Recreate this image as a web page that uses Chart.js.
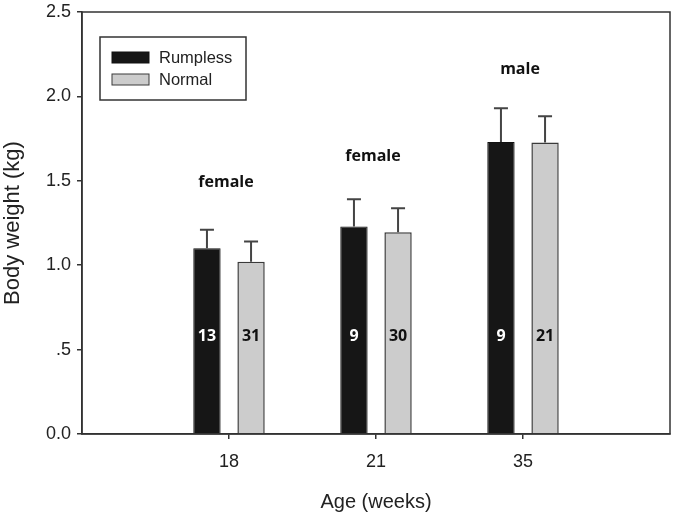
<!DOCTYPE html>
<html>
<head>
<meta charset="utf-8">
<script src="https://cdn.jsdelivr.net/npm/chart.js@4.4.1/dist/chart.umd.min.js"></script>
<style>
  html, body { margin: 0; padding: 0; background: #ffffff; }
  #wrap { width: 675px; height: 514px; }
</style>
</head>
<body>
<div id="wrap"><canvas id="c" width="675" height="514"></canvas></div>
<script>
// ---- data ----
const categories = ['18', '21', '35'];
const rumplessMean = [1.10, 1.23, 1.73];
const rumplessSD = [0.11, 0.16, 0.20];
const normalMean = [1.02, 1.195, 1.727];
const normalSD = [0.12, 0.143, 0.156];
const rumplessN = ['13', '9', '9'];
const normalN = ['31', '30', '21'];
const groupLabels = ['female', 'female', 'male'];
const groupLabelY = [1.49, 1.645, 2.16];
const yTickLabels = ['0.0', '.5', '1.0', '1.5', '2.0', '2.5'];

// pad categories with empty slots so the axis spans one category beyond each side
const axisLabels = [''].concat(categories, ['']);
const pad = arr => [null].concat(arr, [null]);

const AXIS = '#333333';
const FONT = "'Liberation Sans', Arial, sans-serif";
const BOLD = "'Open Sans', 'DejaVu Sans', sans-serif";

const overlay = {
  id: 'overlay',
  afterDraw(chart) {
    const ctx = chart.ctx;
    const ys = chart.scales.y;
    const xs = chart.scales.x;
    const ca = chart.chartArea;
    const sds = [rumplessSD, normalSD];
    const ns = [rumplessN, normalN];
    ctx.save();
    // error bars (upper only)
    chart.data.datasets.forEach((ds, di) => {
      const meta = chart.getDatasetMeta(di);
      meta.data.forEach((el, j) => {
        const v = ds.data[j];
        if (v === null || v === undefined) return;
        const sd = sds[di][j - 1];
        const yTop = ys.getPixelForValue(v + sd);
        ctx.strokeStyle = '#444444';
        ctx.lineWidth = 2;
        ctx.beginPath();
        ctx.moveTo(el.x, el.y);
        ctx.lineTo(el.x, yTop);
        ctx.moveTo(el.x - 7, yTop);
        ctx.lineTo(el.x + 7, yTop);
        ctx.stroke();
        // sample size labels
        ctx.font = 'bold 16px ' + BOLD;
        ctx.textAlign = 'center';
        ctx.textBaseline = 'middle';
        ctx.fillStyle = di === 0 ? '#ffffff' : '#111111';
        ctx.fillText(ns[di][j - 1], el.x, ys.getPixelForValue(0.58));
      });
    });
    // group labels
    ctx.font = 'bold 16px ' + BOLD;
    ctx.fillStyle = '#111111';
    ctx.textAlign = 'center';
    ctx.textBaseline = 'middle';
    groupLabels.forEach((t, i) => {
      ctx.fillText(t, xs.getPixelForValue(i + 1) - 3, ys.getPixelForValue(groupLabelY[i]));
    });
    // frame
    ctx.strokeStyle = AXIS;
    ctx.lineWidth = 1.5;
    ctx.strokeRect(ca.left, ca.top, ca.right - ca.left, ca.bottom - ca.top);
    // legend
    const lx = ca.left + 18, ly = ca.top + 25;
    ctx.lineWidth = 1.5;
    ctx.strokeStyle = AXIS;
    ctx.strokeRect(lx, ly, 146, 63);
    chart.data.datasets.forEach((ds, di) => {
      const sy = ly + 15 + di * 22;
      ctx.fillStyle = ds.backgroundColor;
      ctx.fillRect(lx + 12, sy, 37, 11);
      ctx.lineWidth = 1;
      ctx.strokeStyle = ds.borderColor;
      ctx.strokeRect(lx + 12, sy, 37, 11);
      ctx.fillStyle = '#222222';
      ctx.font = '16.5px ' + FONT;
      ctx.textAlign = 'left';
      ctx.textBaseline = 'middle';
      ctx.fillText(ds.label, lx + 59, sy + 6);
    });
    ctx.restore();
  }
};

new Chart(document.getElementById('c'), {
  type: 'bar',
  data: {
    labels: axisLabels,
    datasets: [
      { label: 'Rumpless', data: pad(rumplessMean), backgroundColor: '#161616', borderColor: '#111111', borderWidth: 1 },
      { label: 'Normal', data: pad(normalMean), backgroundColor: '#cccccc', borderColor: '#3a3a3a', borderWidth: 1.5 }
    ]
  },
  options: {
    responsive: false,
    animation: false,
    categoryPercentage: 0.6,
    barPercentage: 0.62,
    layout: { padding: { top: 12, right: 5, left: 0, bottom: 0 } },
    plugins: { legend: { display: false }, tooltip: { enabled: false } },
    scales: {
      x: {
        offset: false,
        grid: {
          offset: false,
          drawOnChartArea: false,
          drawTicks: true,
          tickLength: 5,
          color: ctx => (ctx.tick && ctx.tick.label === '') ? 'rgba(0,0,0,0)' : AXIS,
          lineWidth: 1.5
        },
        border: { display: true, color: AXIS, width: 1.5 },
        ticks: { color: '#222', font: { family: FONT, size: 18 }, padding: 12, maxRotation: 0, autoSkip: false },
        title: { display: true, text: 'Age (weeks)', color: '#222', font: { family: FONT, size: 20 }, padding: { top: 0, bottom: 0 } },
        afterFit: s => { s.height = 80; s.paddingLeft = 0; s.paddingRight = 0; }
      },
      y: {
        min: 0, max: 2.5,
        grid: { drawOnChartArea: false, drawTicks: true, tickLength: 5, color: AXIS, lineWidth: 1.5 },
        border: { display: true, color: AXIS, width: 1.5 },
        ticks: {
          stepSize: 0.5,
          color: '#222',
          font: { family: FONT, size: 18 },
          padding: 6,
          callback: (v, i) => yTickLabels[i]
        },
        title: { display: true, text: 'Body weight (kg)', color: '#222', font: { family: FONT, size: 22 }, padding: { top: 0, bottom: 0 } },
        afterFit: s => { s.width = 82; s.paddingTop = 0; s.paddingBottom = 0; }
      }
    }
  },
  plugins: [overlay]
});
</script>
</body>
</html>
